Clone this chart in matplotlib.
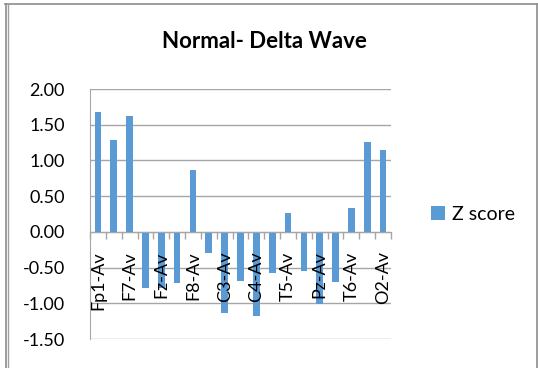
import matplotlib
matplotlib.use("Agg")
import matplotlib.pyplot as plt
from matplotlib.lines import Line2D
from matplotlib.ticker import FixedLocator, FormatStrFormatter

channels = ["Fp1-Av", "Fp2-Av", "F7-Av", "F3-Av", "Fz-Av", "F4-Av", "F8-Av",
            "T3-Av", "C3-Av", "Cz-Av", "C4-Av", "T4-Av", "T5-Av", "P3-Av",
            "Pz-Av", "P4-Av", "T6-Av", "O1-Av", "O2-Av"]
z_score = [1.68, 1.29, 1.62, -0.79, -0.78, -0.71, 0.87, -0.29, -1.14, -0.69,
           -1.18, -0.57, 0.27, -0.55, -1.01, -0.70, 0.34, 1.26, 1.14]
y_ticks = [-1.5, -1.0, -0.5, 0.0, 0.5, 1.0, 1.5, 2.0]

W, H = 538, 368
plt.rcParams["font.family"] = ["Lato", "DejaVu Sans"]

fig = plt.figure(figsize=(W / 100, H / 100), dpi=100)
ax = fig.add_axes([90 / W, 1 - 339 / H, 301 / W, 250 / H])

grid_c = "#A6A6A6"
for v in y_ticks:
    ax.axhline(v, color=grid_c, linewidth=1.0, zorder=0.5)

x = list(range(len(channels)))
ax.bar(x, z_score, width=0.42, color="#5B9BD5", label="Z score", zorder=2)

ax.set_xlim(-0.5, len(channels) - 0.5)
ax.set_ylim(-1.5, 2.0)
ax.yaxis.set_major_locator(FixedLocator(y_ticks))
ax.yaxis.set_major_formatter(FormatStrFormatter("%.2f"))
ax.tick_params(axis="y", length=0, pad=18, labelsize=13, labelcolor="black")

for s in ["top", "right"]:
    ax.spines[s].set_visible(False)
ax.spines["left"].set_color(grid_c)
ax.spines["bottom"].set_position(("data", 0))
ax.spines["bottom"].set_color(grid_c)
ax.spines["bottom"].set_zorder(3)

ax.set_xticks(x[::2])
ax.set_xticklabels(channels[::2], rotation=90)
ax.set_xticks([i - 0.5 for i in range(len(channels) + 1)], minor=True)
ax.tick_params(axis="x", which="major", length=0, pad=14, labelsize=13)
ax.tick_params(axis="x", which="minor", length=5, color=grid_c, width=1)
ax.xaxis.set_zorder(4)

fig.text(264 / W, 1 - 42 / H, "Normal- Delta Wave", ha="center", va="center",
         fontsize=16, fontweight="bold")

fig.legend(loc="center left", bbox_to_anchor=(431 / W, 1 - 214 / H),
           frameon=False, fontsize=14, handlelength=0.7, handleheight=0.7,
           handletextpad=0.4, borderpad=0, borderaxespad=0)

# chart frame
def px_line(xs, ys, **kw):
    fig.add_artist(Line2D([v / W for v in xs], [1 - v / H for v in ys],
                          transform=fig.transFigure, **kw))

px_line([5, 537], [4, 4], color="#8C8C8C", linewidth=1.2)
px_line([5.5, 5.5], [4, H], color="#8C8C8C", linewidth=1.2)
px_line([7.5, 7.5], [4, H], color="#A0A0A0", linewidth=1.0)
px_line([536.5, 536.5], [4, H], color="#8C8C8C", linewidth=1.2)

fig.savefig("out.png", dpi=100)
